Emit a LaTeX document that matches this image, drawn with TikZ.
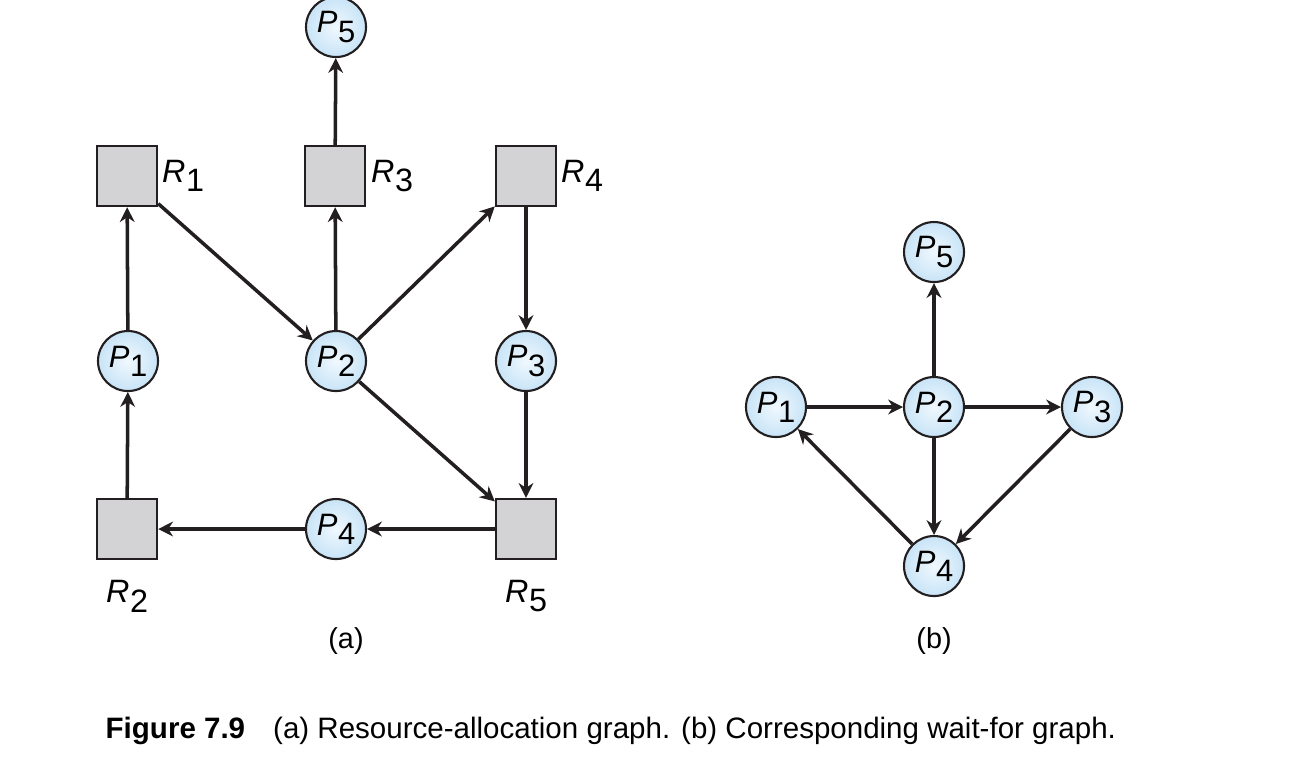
\documentclass[tikz,border=0pt]{standalone}
\usepackage{fontspec}
\setmainfont{Liberation Sans}
\usepackage{tikz}
\usetikzlibrary{arrows.meta}

\definecolor{procin}{RGB}{240,248,254}
\definecolor{procout}{RGB}{200,228,247}
\definecolor{resfill}{RGB}{211,211,213}
\definecolor{edgecol}{RGB}{35,31,32}
\newcommand{\pname}[1]{\textit{P}\kern0.02em\raisebox{-0.3em}{#1}}
\newcommand{\rname}[1]{\textit{R}\kern0.02em\raisebox{-0.3em}{#1}}

\begin{document}
\begin{tikzpicture}[
    font=\fontsize{8.2}{10}\selectfont,
    proc/.style={circle, draw=edgecol, line width=0.6pt, inner color=procin, outer color=procout,
      minimum size=0.6cm, inner sep=0pt, font=\fontsize{8.8}{10}\selectfont},
    res/.style={rectangle, draw=edgecol, line width=0.7pt, fill=resfill, minimum size=0.6cm, inner sep=0pt},
    reslab/.style={font=\fontsize{9.2}{11}\selectfont},
    edge/.style={draw=edgecol, line width=1pt, -{Stealth[length=4.2pt, width=4.2pt]}}
  ]
  \useasboundingbox (0,0) rectangle (13,-7.78);

  % (a) resource-allocation graph
  \node[proc] (a5) at (3.36,-0.27) {\pname{5}};
  \node[res] (r1) at (1.27,-1.76) {};
  \node[res] (r3) at (3.35,-1.76) {};
  \node[res] (r4) at (5.26,-1.76) {};
  \node[proc] (a1) at (1.28,-3.61) {\pname{1}};
  \node[proc] (a2) at (3.36,-3.61) {\pname{2}};
  \node[proc] (a3) at (5.26,-3.61) {\pname{3}};
  \node[res] (r2) at (1.27,-5.29) {};
  \node[proc] (a4) at (3.36,-5.29) {\pname{4}};
  \node[res] (r5) at (5.26,-5.29) {};

  \node[reslab] (r1lab) at (1.83,-1.76) {\rname{1}};
  \node[reslab] (r3lab) at (3.92,-1.76) {\rname{3}};
  \node[reslab] (r4lab) at (5.82,-1.76) {\rname{4}};
  \node[reslab] (r2lab) at (1.27,-5.96) {\rname{2}};
  \node[reslab] (r5lab) at (5.26,-5.96) {\rname{5}};
  \node (alab) at (3.46,-6.41) {(a)};

  \draw[edge] (a1) -- (r1);
  \draw[edge] (r2) -- (a1);
  \draw[edge] (r1) -- (a2);
  \draw[edge] (a2) -- (r3);
  \draw[edge] (r3) -- (a5);
  \draw[edge] (a2) -- (r4);
  \draw[edge] (r4) -- (a3);
  \draw[edge] (a3) -- (r5);
  \draw[edge] (a2) -- (r5);
  \draw[edge] (r5) -- (a4);
  \draw[edge] (a4) -- (r2);

  % (b) wait-for graph
  \node[proc] (b5) at (9.34,-2.52) {\pname{5}};
  \node[proc] (b1) at (7.76,-4.07) {\pname{1}};
  \node[proc] (b2) at (9.34,-4.07) {\pname{2}};
  \node[proc] (b3) at (10.92,-4.07) {\pname{3}};
  \node[proc] (b4) at (9.34,-5.66) {\pname{4}};
  \node (blab) at (9.34,-6.41) {(b)};

  \draw[edge] (b1) -- (b2);
  \draw[edge] (b2) -- (b3);
  \draw[edge] (b2) -- (b5);
  \draw[edge] (b2) -- (b4);
  \draw[edge] (b3) -- (b4);
  \draw[edge] (b4) -- (b1);

  \node[anchor=west, inner sep=0pt, font=\fontsize{8.4}{10}\selectfont] (caption) at (1.05,-7.31)
    {\textbf{Figure 7.9}\hspace{0.95em}(a) Resource-allocation graph. (b) Corresponding wait-for graph.};
\end{tikzpicture}
\end{document}
